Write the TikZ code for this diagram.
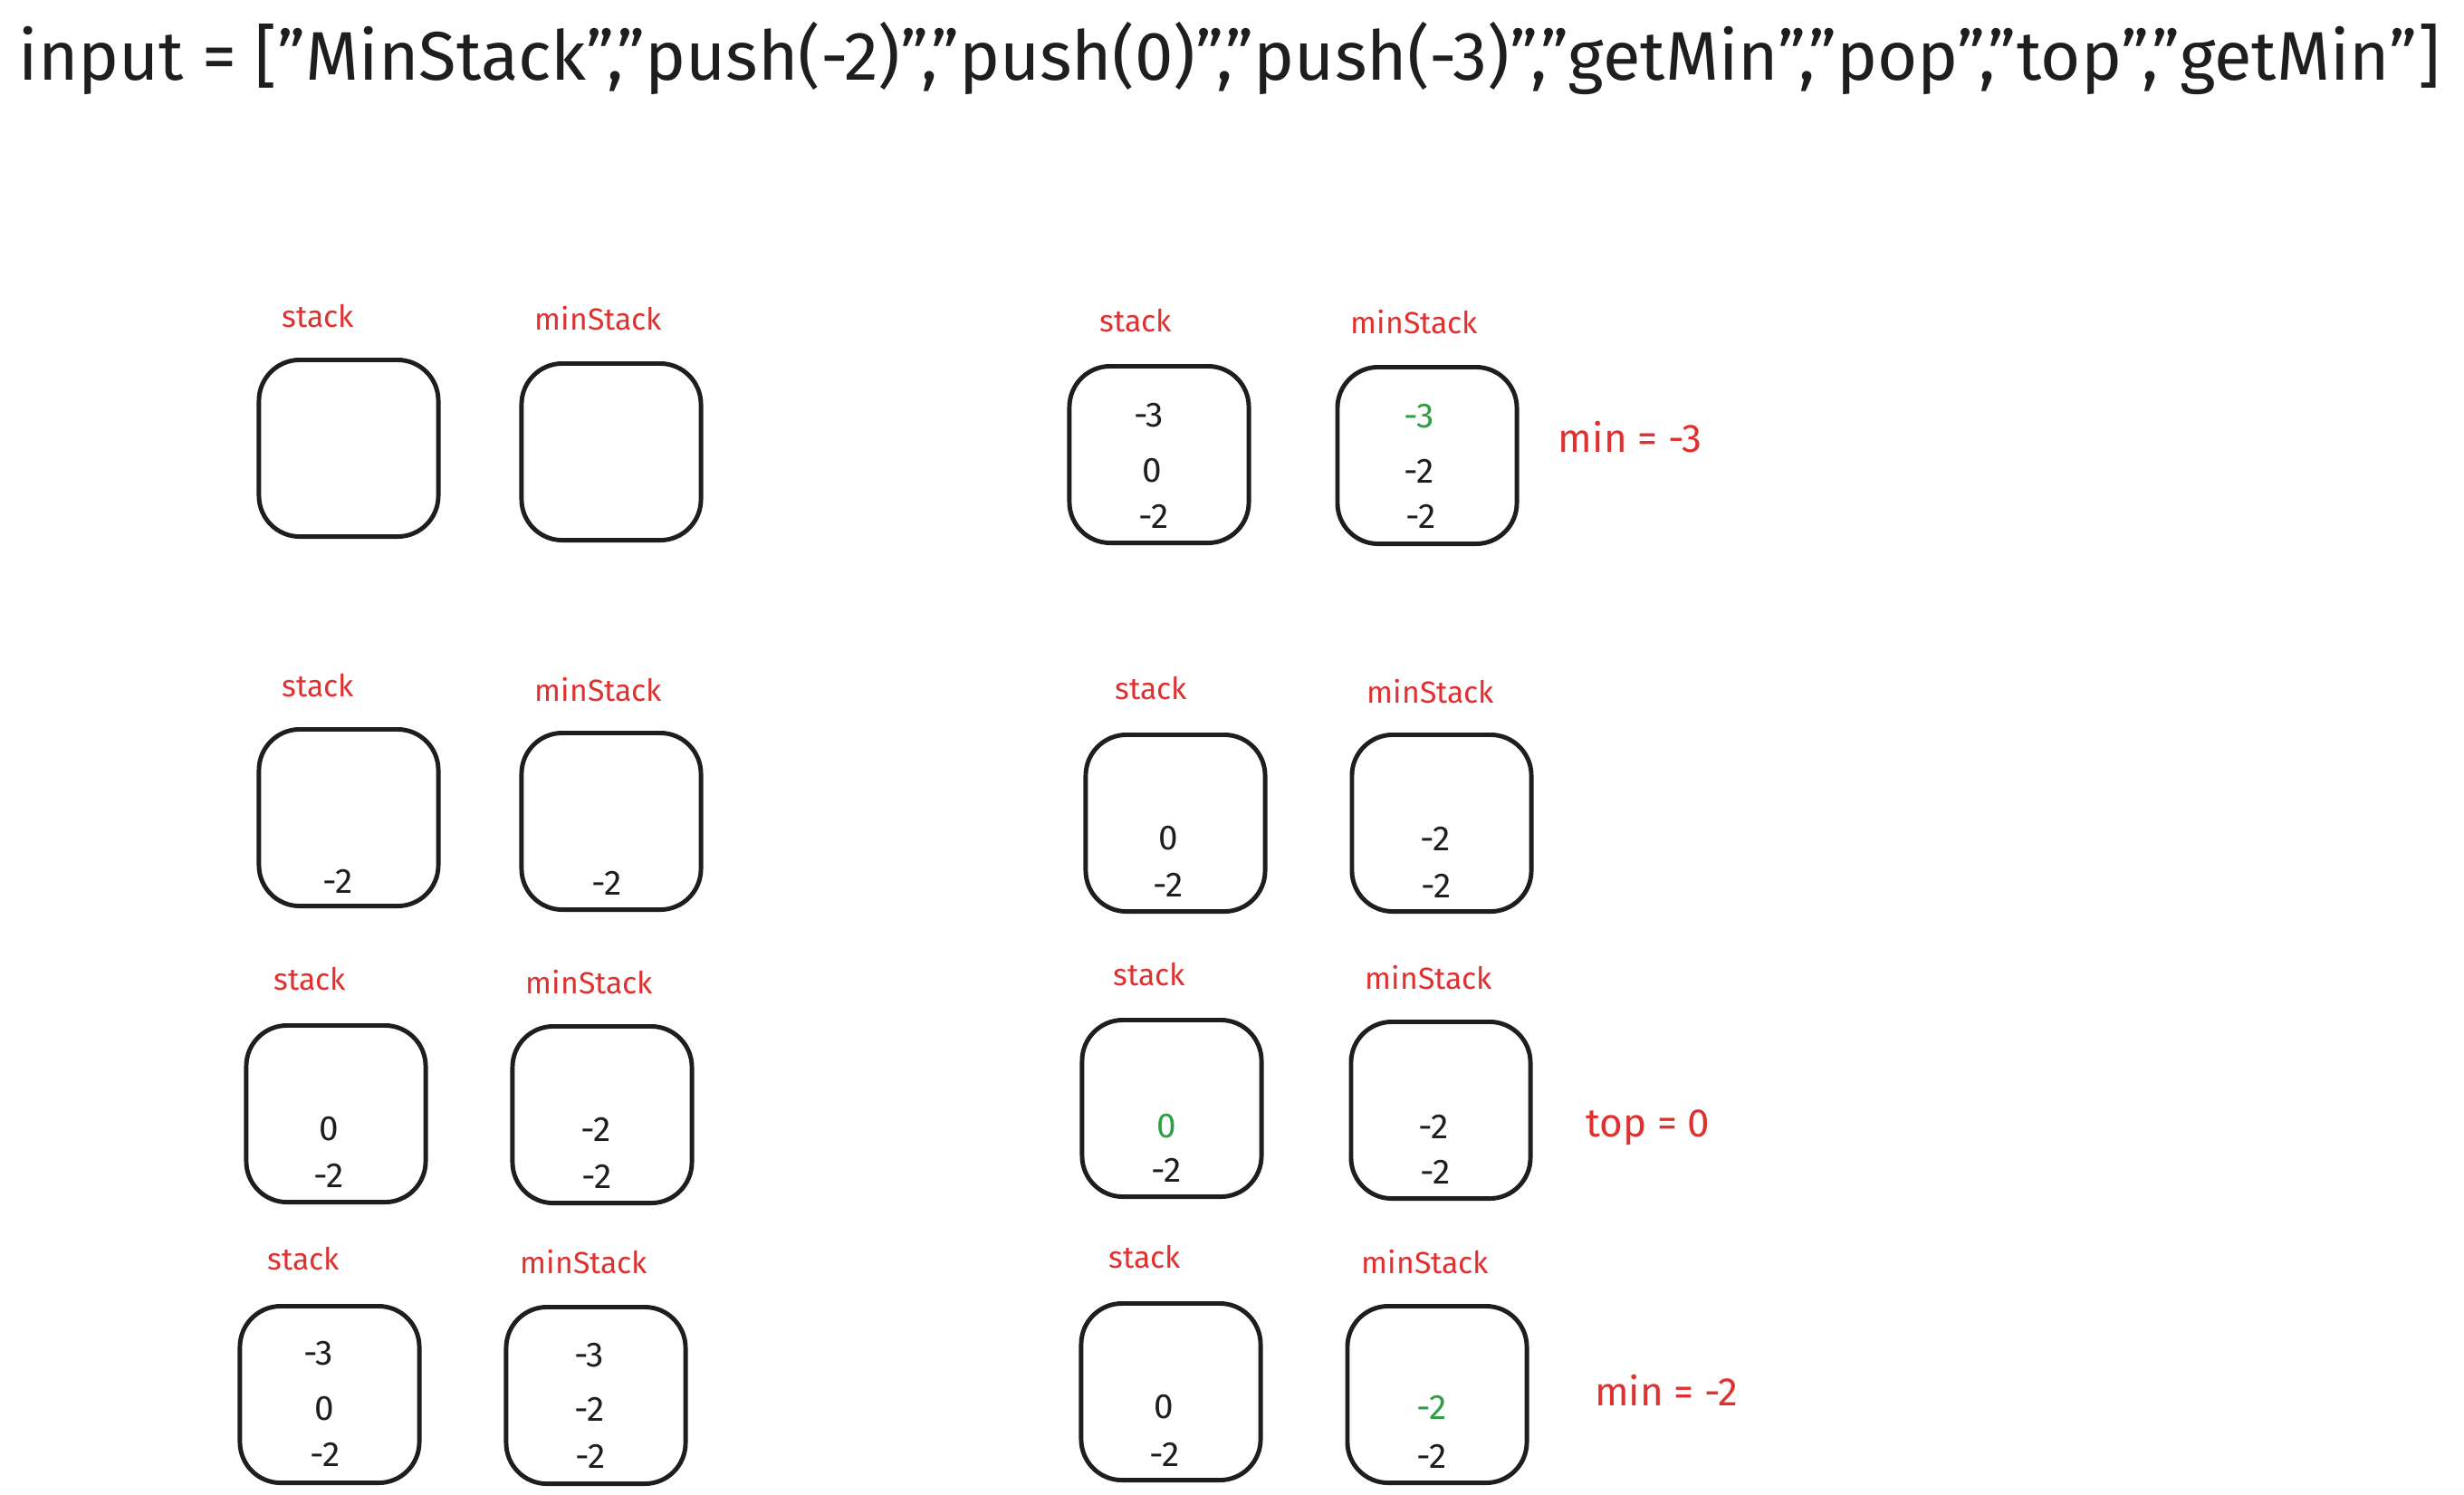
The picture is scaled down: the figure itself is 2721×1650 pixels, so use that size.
\documentclass[tikz,border=0pt]{standalone}
\usepackage{fontspec}
\setmainfont{Fira Sans}[Ligatures=ResetAll]
\usepackage{tikz}
\usetikzlibrary{positioning}

\definecolor{ink}{HTML}{1E1E1E}
\definecolor{redink}{HTML}{E03131}
\definecolor{greenink}{HTML}{2F9E44}

\tikzset{
    stackbox/.style={draw=ink, line width=1.4pt, rounded corners=0.45cm,
        minimum width=1.98cm, minimum height=1.95cm},
    lbl/.style={text=redink, font=\fontsize{9.6}{12}\selectfont, inner sep=0pt},
    val/.style={text=ink, font=\fontsize{11}{13}\selectfont, inner sep=0pt},
    hit/.style={val, text=greenink},
    note/.style={text=redink, font=\fontsize{12.5}{15}\selectfont, inner sep=0pt},
}

\begin{document}
\begin{tikzpicture}[x=0.01cm, y=-0.01cm]
        \useasboundingbox[fill=white] (0,0) rectangle (2721,1650);

        \node [text=ink, font=\fontsize{21.6}{26}\selectfont, anchor=west, inner sep=0pt] (title) at (20,64)
            {input = ["MinStack","push(-2)","push(0)","push(-3)","getMin","pop","top","getMin"]};

        % left column: MinStack, push(-2), push(0), push(-3)
        \node [stackbox] (s1) at (385,495) {};
        \node [stackbox] (m1) at (675,499) {};
        \node [lbl] (ls1) at (351,349) {stack};
        \node [lbl] (lm1) at (661,352) {minStack};

        \node [stackbox] (s2) at (385,903) {};
        \node [stackbox] (m2) at (675,907) {};
        \node [lbl] (ls2) at (351,757) {stack};
        \node [lbl] (lm2) at (661,762) {minStack};
        \node [val] (s2a) at (373,973) {-2};
        \node [val] (m2a) at (670,975) {-2};

        \node [stackbox] (s3) at (371,1230) {};
        \node [stackbox] (m3) at (665,1231) {};
        \node [lbl] (ls3) at (342,1081) {stack};
        \node [lbl] (lm3) at (651,1085) {minStack};
        \node [val] (s3a) at (363,1247) {0};
        \node [val] (s3b) at (363,1298) {-2};
        \node [val] (m3a) at (658,1247) {-2};
        \node [val] (m3b) at (659,1299) {-2};

        \node [stackbox] (s4) at (364,1540) {};
        \node [stackbox] (m4) at (658,1541) {};
        \node [lbl] (ls4) at (335,1390) {stack};
        \node [lbl] (lm4) at (645,1394) {minStack};
        \node [val] (s4a) at (352,1495) {-3};
        \node [val] (s4b) at (358,1556) {0};
        \node [val] (s4c) at (359,1606) {-2};
        \node [val] (m4a) at (651,1497) {-3};
        \node [val] (m4b) at (651,1556) {-2};
        \node [val] (m4c) at (652,1608) {-2};

        % right column: getMin, pop, top, getMin
        \node [stackbox] (s5) at (1280,502) {};
        \node [stackbox] (m5) at (1576,503) {};
        \node [lbl] (ls5) at (1254,354) {stack};
        \node [lbl] (lm5) at (1562,356) {minStack};
        \node [val] (s5a) at (1269,459) {-3};
        \node [val] (s5b) at (1272,520) {0};
        \node [val] (s5c) at (1274,570) {-2};
        \node [hit] (m5a) at (1567,460) {-3};
        \node [val] (m5b) at (1567,520) {-2};
        \node [val] (m5c) at (1569,570) {-2};
        \node [note] (n5) at (1800,483) {min = -3};

        \node [stackbox] (s6) at (1298,909) {};
        \node [stackbox] (m6) at (1592,909) {};
        \node [lbl] (ls6) at (1271,760) {stack};
        \node [lbl] (lm6) at (1580,764) {minStack};
        \node [val] (s6a) at (1290,926) {0};
        \node [val] (s6b) at (1290,977) {-2};
        \node [val] (m6a) at (1585,926) {-2};
        \node [val] (m6b) at (1586,978) {-2};

        \node [stackbox] (s7) at (1294,1224) {};
        \node [stackbox] (m7) at (1591,1226) {};
        \node [lbl] (ls7) at (1269,1076) {stack};
        \node [lbl] (lm7) at (1578,1080) {minStack};
        \node [hit] (s7a) at (1288,1244) {0};
        \node [val] (s7b) at (1288,1292) {-2};
        \node [val] (m7a) at (1583,1244) {-2};
        \node [val] (m7b) at (1585,1294) {-2};
        \node [note] (n7) at (1820,1245) {top = 0};

        \node [stackbox] (s8) at (1293,1537) {};
        \node [stackbox] (m8) at (1587,1540) {};
        \node [lbl] (ls8) at (1264,1388) {stack};
        \node [lbl] (lm8) at (1574,1394) {minStack};
        \node [val] (s8a) at (1285,1554) {0};
        \node [val] (s8b) at (1286,1606) {-2};
        \node [hit] (m8a) at (1581,1554) {-2};
        \node [val] (m8b) at (1581,1608) {-2};
        \node [note] (n8) at (1840,1535) {min = -2};
    \end{tikzpicture}
\end{document}
